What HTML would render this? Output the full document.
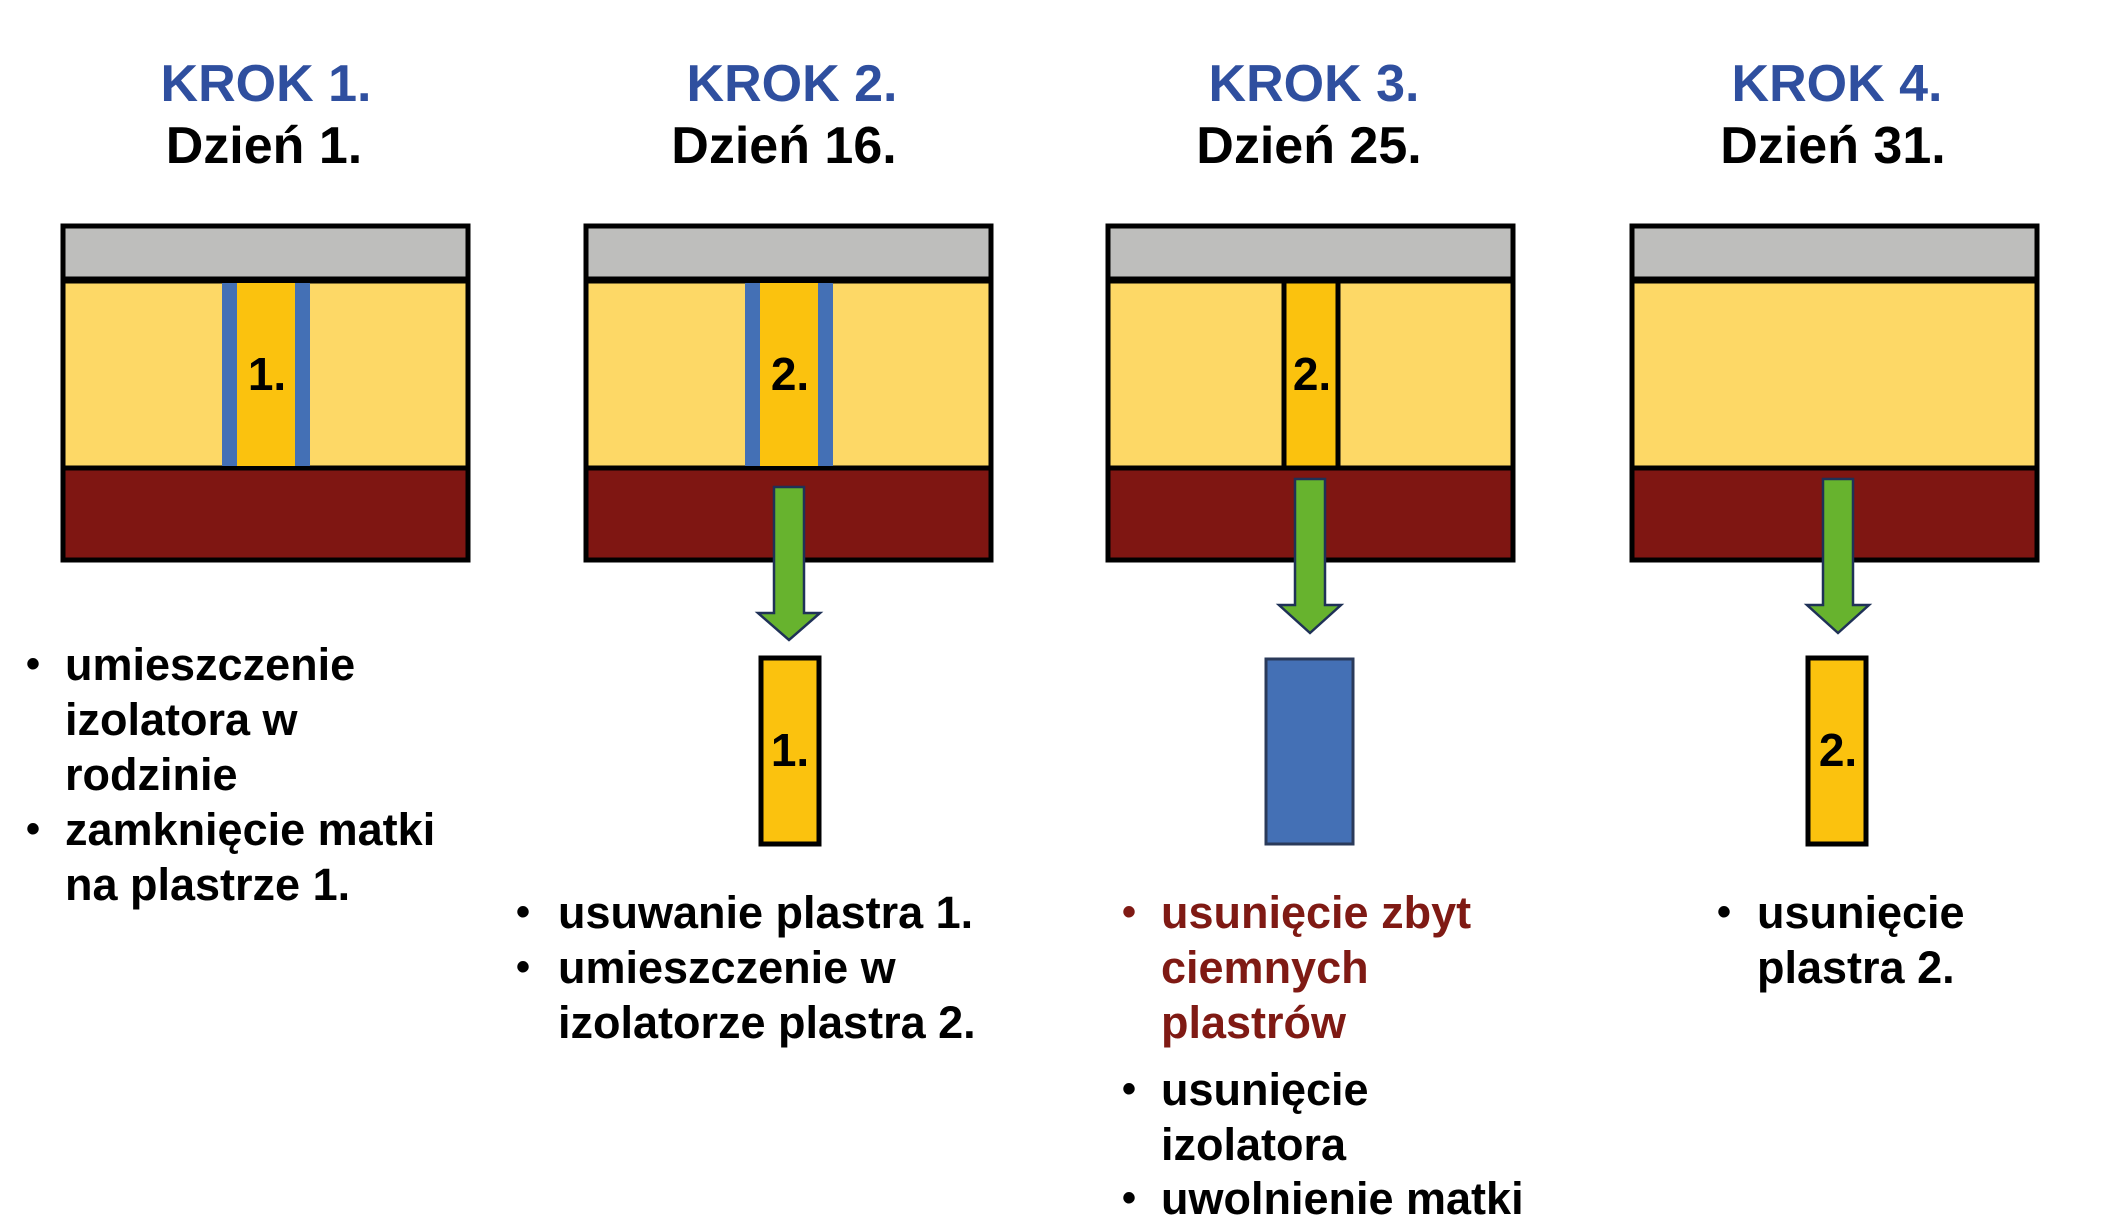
<!DOCTYPE html>
<html><head><meta charset="utf-8"><style>
html,body{margin:0;padding:0;background:#fff;}
body{width:2108px;height:1231px;position:relative;overflow:hidden;font-family:"Liberation Sans",Arial,sans-serif;font-weight:bold;}
.h{position:absolute;width:400px;text-align:center;font-size:52px;line-height:60px;}
.k{color:#2f4f9f;}
.t{position:absolute;font-size:45px;line-height:55px;color:#000;white-space:nowrap;}
.b{position:absolute;font-size:40px;line-height:55px;}
.r{color:#7f1a14;}
</style></head><body>
<svg width="2108" height="1231" style="position:absolute;left:0;top:0">
<g stroke="#000" stroke-width="5">
<rect x="63" y="226" width="405" height="53" fill="#bebebc"/>
<rect x="63" y="281" width="405" height="187" fill="#fdd866"/>
<rect x="63" y="468" width="405" height="92" fill="#7f1612"/>
<rect x="586" y="226" width="405" height="53" fill="#bebebc"/>
<rect x="586" y="281" width="405" height="187" fill="#fdd866"/>
<rect x="586" y="468" width="405" height="92" fill="#7f1612"/>
<rect x="1108" y="226" width="405" height="53" fill="#bebebc"/>
<rect x="1108" y="281" width="405" height="187" fill="#fdd866"/>
<rect x="1108" y="468" width="405" height="92" fill="#7f1612"/>
<rect x="1632" y="226" width="405" height="53" fill="#bebebc"/>
<rect x="1632" y="281" width="405" height="187" fill="#fdd866"/>
<rect x="1632" y="468" width="405" height="92" fill="#7f1612"/>
</g>
<rect x="222" y="283" width="15" height="183" fill="#4470b5"/>
<rect x="237" y="283" width="58" height="183" fill="#fbc20e"/>
<rect x="295" y="283" width="15" height="183" fill="#4470b5"/>
<rect x="745" y="283" width="15" height="183" fill="#4470b5"/>
<rect x="760" y="283" width="58" height="183" fill="#fbc20e"/>
<rect x="818" y="283" width="15" height="183" fill="#4470b5"/>
<rect x="1284" y="281" width="54" height="187" fill="#fbc20e" stroke="#000" stroke-width="5"/>
<g fill="#67b32e" stroke="#1f3157" stroke-width="2.5">
<polygon points="774,487 804,487 804,613 820,613 789,640 758,613 774,613"/>
<polygon points="1295,479 1325,479 1325,605 1341,605 1310,633 1279,605 1295,605"/>
<polygon points="1823,479 1853,479 1853,605 1869,605 1838,633 1807,605 1823,605"/>
</g>
<rect x="761" y="658" width="58" height="186" fill="#fbc20e" stroke="#000" stroke-width="5"/>
<rect x="1266" y="659" width="87" height="185" fill="#4470b5" stroke="#2a3a5a" stroke-width="3"/>
<rect x="1808" y="658" width="58" height="186" fill="#fbc20e" stroke="#000" stroke-width="5"/>
<g font-family="Liberation Sans, Arial, sans-serif" font-weight="bold" font-size="46" text-anchor="middle" fill="#000">
<text x="267" y="390">1.</text>
<text x="790" y="390">2.</text>
<text x="1312" y="390">2.</text>
<text x="790" y="766">1.</text>
<text x="1838" y="766">2.</text>
</g>
</svg>
<div class="h k" style="left:66px;top:54px">KROK 1.</div>
<div class="h" style="left:64px;top:116px">Dzień 1.</div>
<div class="h k" style="left:592px;top:54px">KROK 2.</div>
<div class="h" style="left:584px;top:116px">Dzień 16.</div>
<div class="h k" style="left:1114px;top:54px">KROK 3.</div>
<div class="h" style="left:1109px;top:116px">Dzień 25.</div>
<div class="h k" style="left:1637px;top:54px">KROK 4.</div>
<div class="h" style="left:1633px;top:116px">Dzień 31.</div>

<div class="b" style="left:26px;top:637px">•</div>
<div class="t" style="left:65px;top:637px">umieszczenie<br>izolatora w<br>rodzinie</div>
<div class="b" style="left:26px;top:802px">•</div>
<div class="t" style="left:65px;top:802px">zamknięcie matki<br>na plastrze 1.</div>

<div class="b" style="left:516px;top:885px">•</div>
<div class="t" style="left:558px;top:885px">usuwanie plastra 1.</div>
<div class="b" style="left:516px;top:940px">•</div>
<div class="t" style="left:558px;top:940px">umieszczenie w<br>izolatorze plastra 2.</div>

<div class="b r" style="left:1122px;top:885px">•</div>
<div class="t r" style="left:1161px;top:885px">usunięcie zbyt<br>ciemnych<br>plastrów</div>
<div class="b" style="left:1122px;top:1062px">•</div>
<div class="t" style="left:1161px;top:1062px">usunięcie<br>izolatora</div>
<div class="b" style="left:1122px;top:1171px">•</div>
<div class="t" style="left:1161px;top:1171px">uwolnienie matki</div>

<div class="b" style="left:1717px;top:885px">•</div>
<div class="t" style="left:1757px;top:885px">usunięcie<br>plastra 2.</div>
</body></html>
